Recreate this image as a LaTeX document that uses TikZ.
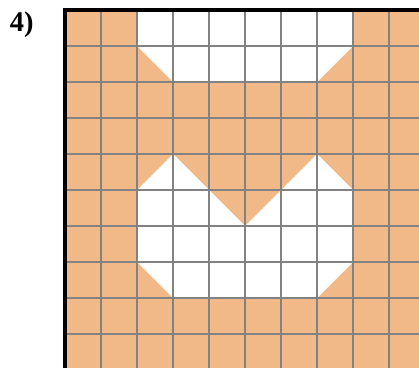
\documentclass[tikz,border=0pt]{standalone}
\usepackage{fontspec}
\setmainfont{Liberation Serif}
\definecolor{tileorange}{RGB}{241,185,135}
\definecolor{gridgray}{RGB}{130,130,130}
\begin{document}
\begin{tikzpicture}[
    gridline/.style={gridgray, line width=1.2pt},
    borderline/.style={black, line width=2.4pt},
    hole/.style={fill=white, draw=none}
  ]
                \useasboundingbox (-1.806,0.056) rectangle (9.833,10.278);
                % Coloured area
                \fill[tileorange] (0,0) rectangle (10,10);
                \fill[hole] (2,10) -- (8,10) -- (8,9) -- (7,8) -- (3,8) -- (2,9) -- cycle;
                \fill[hole] (2,5) -- (3,6) -- (4,5) -- (5,4) -- (6,5) -- (7,6)
                    -- (8,5) -- (8,3) -- (7,2) -- (3,2) -- (2,3) -- cycle;
                
                % Grid lines
                \draw[gridline] (0,0) grid[step=1] (10,10);
                
                % Border
                \draw[borderline] (0,0) -- (0,10) -- (10,10);
                
                \node [font=\bfseries\fontsize{22.5}{26}\selectfont] (num) at (-1.2,9.58) {4)};
              \end{tikzpicture}
\end{document}
